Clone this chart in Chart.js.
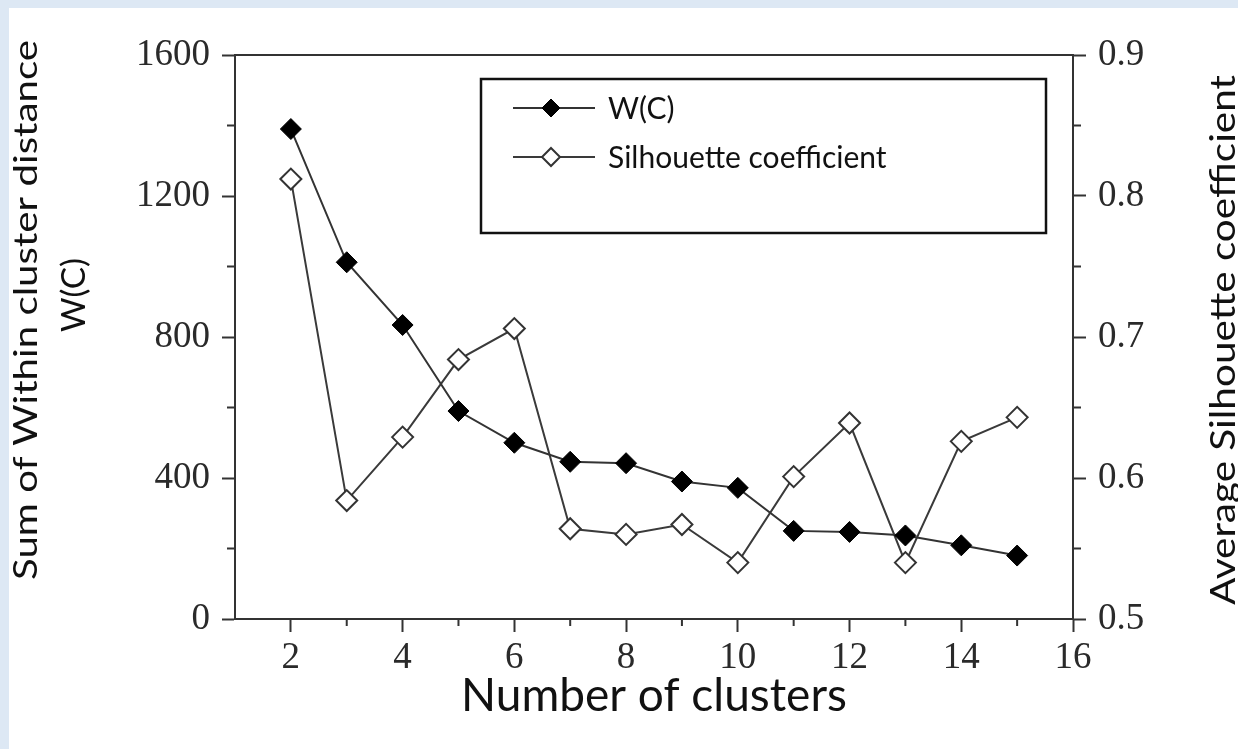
<!DOCTYPE html>
<html>
<head>
<meta charset="utf-8">
<title>Number of clusters</title>
<script src="https://cdn.jsdelivr.net/npm/chart.js"></script>
<style>
  html, body { margin: 0; padding: 0; overflow: hidden; background: #dde8f4; }
  #wrap { position: absolute; left: 9px; top: 8px; width: 1229px; height: 741px; background: #ffffff; }
</style>
</head>
<body>
<div id="wrap"><canvas id="myChart" width="1229" height="741"></canvas></div>
<script>
// valores
var clusters = [2, 3, 4, 5, 6, 7, 8, 9, 10, 11, 12, 13, 14, 15];
var wcValues = [1390, 1012, 834, 590, 500, 446, 442, 390, 372, 250, 247, 237, 209, 180];
var silhouetteValues = [0.812, 0.584, 0.629, 0.684, 0.706, 0.564, 0.560, 0.567, 0.540, 0.601, 0.639, 0.540, 0.626, 0.643];

var xTitle = 'Number of clusters';
var yTitleLines = ['Sum of Within cluster distance', 'W(C)'];
var y1Title = 'Average Silhouette coefficient';

var AXIS = '#333333';
var SERIF = '"Liberation Serif", "Times New Roman", serif';
var SANS = 'Lato, Carlito, "Open Sans", sans-serif';

function toPoints(xs, ys) {
    var out = [];
    for (var i = 0; i < xs.length; i++) {
        out.push({ x: xs[i], y: ys[i] });
    }
    return out;
}

function diamond(ctx, x, y, r, fill, stroke, lw) {
    ctx.beginPath();
    ctx.moveTo(x, y - r);
    ctx.lineTo(x + r, y);
    ctx.lineTo(x, y + r);
    ctx.lineTo(x - r, y);
    ctx.closePath();
    ctx.fillStyle = fill;
    ctx.fill();
    ctx.lineWidth = lw;
    ctx.strokeStyle = stroke;
    ctx.stroke();
}

// texto vertical que se lee de abajo hacia arriba, estirado a un largo dado
function drawUpText(ctx, text, baseX, centerY, length, size) {
    ctx.save();
    ctx.translate(baseX, centerY);
    ctx.rotate(-Math.PI / 2);
    ctx.font = size + 'px ' + SANS;
    var w = ctx.measureText(text).width;
    ctx.scale(length / w, 1);
    ctx.textAlign = 'center';
    ctx.textBaseline = 'alphabetic';
    ctx.fillStyle = '#111111';
    ctx.fillText(text, 0, 0);
    ctx.restore();
}

function midpoints(scale) {
    var out = [];
    for (var i = 0; i < scale.ticks.length - 1; i++) {
        out.push((scale.ticks[i].value + scale.ticks[i + 1].value) / 2);
    }
    return out;
}

// marco superior, ticks menores, leyenda con recuadro y titulos verticales
var extras = {
    id: 'extras',
    afterDraw: function (chart) {
        var ctx = chart.ctx;
        var ca = chart.chartArea;
        var sx = chart.scales.x, sy = chart.scales.y, sy1 = chart.scales.y1;

        ctx.save();
        ctx.strokeStyle = AXIS;
        ctx.lineWidth = 2;
        ctx.beginPath();
        ctx.moveTo(ca.left - 1, ca.top);
        ctx.lineTo(ca.right + 1, ca.top);
        midpoints(sx).forEach(function (v) {
            var px = sx.getPixelForValue(v);
            ctx.moveTo(px, ca.bottom);
            ctx.lineTo(px, ca.bottom + 7);
        });
        midpoints(sy).forEach(function (v) {
            var py = sy.getPixelForValue(v);
            ctx.moveTo(ca.left, py);
            ctx.lineTo(ca.left - 8, py);
        });
        midpoints(sy1).forEach(function (v) {
            var py = sy1.getPixelForValue(v);
            ctx.moveTo(ca.right, py);
            ctx.lineTo(ca.right + 8, py);
        });
        ctx.stroke();

        // leyenda
        var lx = ca.left + 246, ly = ca.top + 24;
        ctx.lineWidth = 2.5;
        ctx.strokeStyle = '#111111';
        ctx.strokeRect(lx, ly, 565, 154);
        chart.data.datasets.forEach(function (ds, i) {
            var ry = ly + 29 + i * 49;
            ctx.strokeStyle = ds.borderColor;
            ctx.lineWidth = ds.borderWidth;
            ctx.beginPath();
            ctx.moveTo(lx + 32, ry);
            ctx.lineTo(lx + 114, ry);
            ctx.stroke();
            diamond(ctx, lx + 70, ry, 9, ds.pointBackgroundColor, ds.pointBorderColor, ds.pointBorderWidth);
            ctx.fillStyle = '#111111';
            ctx.font = '30px ' + SANS;
            ctx.textAlign = 'left';
            ctx.textBaseline = 'middle';
            ctx.fillText(ds.label, lx + 127, ry + 1);
        });
        ctx.restore();

        drawUpText(ctx, yTitleLines[0], 28, 302, 540, 32);
        drawUpText(ctx, yTitleLines[1], 76, 287, 74, 32);
        drawUpText(ctx, y1Title, 1226, 332, 530, 34);
    }
};

var ctx = document.getElementById('myChart').getContext('2d');
var chart = new Chart(ctx, {
    type: 'line',
    data: {
        datasets: [{
            label: 'W(C)',
            data: toPoints(clusters, wcValues),
            yAxisID: 'y',
            borderColor: '#333333',
            borderWidth: 2,
            backgroundColor: '#000000',
            pointStyle: 'rectRot',
            pointRadius: 10.5,
            pointBackgroundColor: '#000000',
            pointBorderColor: '#000000',
            pointBorderWidth: 1,
            tension: 0,
            fill: false
        }, {
            label: 'Silhouette coefficient',
            data: toPoints(clusters, silhouetteValues),
            yAxisID: 'y1',
            borderColor: '#3a3a3a',
            borderWidth: 2,
            backgroundColor: '#ffffff',
            pointStyle: 'rectRot',
            pointRadius: 10.5,
            pointBackgroundColor: '#ffffff',
            pointBorderColor: '#333333',
            pointBorderWidth: 2,
            tension: 0,
            fill: false
        }]
    },
    options: {
        responsive: false,
        animation: false,
        devicePixelRatio: 1,
        layout: { padding: { top: 47, left: 0, right: 0, bottom: 0 } },
        plugins: {
            legend: { display: false },
            tooltip: { enabled: false }
        },
        scales: {
            x: {
                type: 'linear',
                position: 'bottom',
                min: 1,
                max: 16,
                afterBuildTicks: function (scale) {
                    scale.ticks = scale.ticks.filter(function (t) { return t.value % 2 === 0; });
                },
                afterFit: function (scale) { scale.height = 130; },
                ticks: {
                    stepSize: 2,
                    autoSkip: false,
                    maxRotation: 0,
                    padding: 4,
                    color: '#2a2a2a',
                    font: { family: SERIF, size: 37 },
                    callback: function (v) { return String(v); }
                },
                grid: { drawOnChartArea: false, drawTicks: true, tickLength: 13, tickColor: AXIS, tickWidth: 2 },
                border: { display: true, color: AXIS, width: 2 },
                title: {
                    display: true,
                    text: xTitle,
                    color: '#111111',
                    font: { family: SANS, size: 46 },
                    padding: { top: 0, bottom: 25 }
                }
            },
            y: {
                type: 'linear',
                position: 'left',
                min: 0,
                max: 1600,
                afterFit: function (scale) { scale.width = 226; },
                ticks: {
                    stepSize: 400,
                    padding: 12,
                    color: '#2a2a2a',
                    font: { family: SERIF, size: 37 },
                    callback: function (v) { return String(v); }
                },
                grid: { drawOnChartArea: false, drawTicks: true, tickLength: 13, tickColor: AXIS, tickWidth: 2 },
                border: { display: true, color: AXIS, width: 2 }
            },
            y1: {
                type: 'linear',
                position: 'right',
                min: 0.5,
                max: 0.9,
                afterFit: function (scale) { scale.width = 165; },
                ticks: {
                    stepSize: 0.1,
                    padding: 12,
                    color: '#2a2a2a',
                    font: { family: SERIF, size: 37 },
                    callback: function (v) { return Number(v).toFixed(1); }
                },
                grid: { drawOnChartArea: false, drawTicks: true, tickLength: 13, tickColor: AXIS, tickWidth: 2 },
                border: { display: true, color: AXIS, width: 2 }
            }
        }
    },
    plugins: [extras]
});
</script>
</body>
</html>
